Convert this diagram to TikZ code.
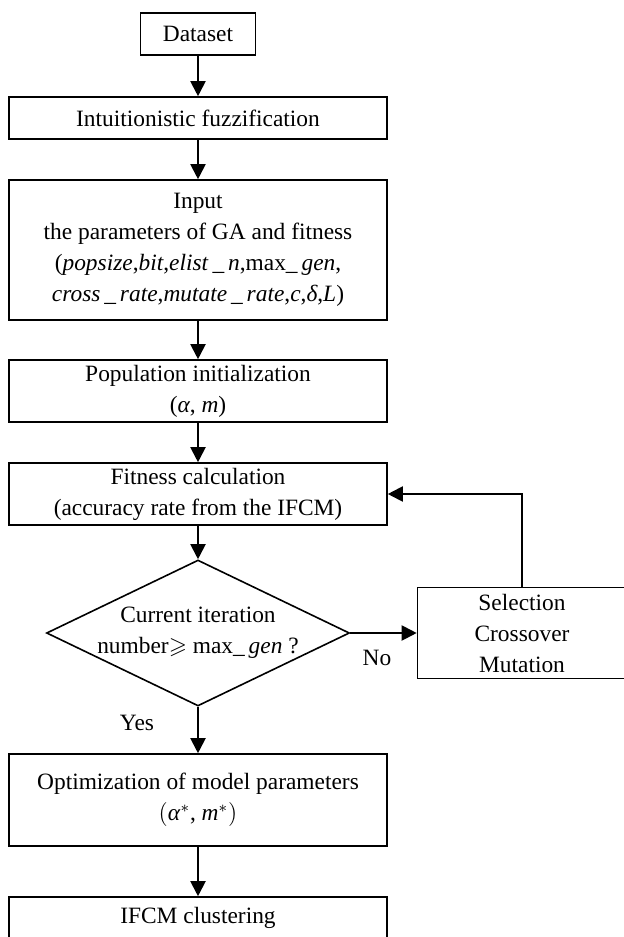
\documentclass[tikz,border=0pt]{standalone}
\usepackage{amssymb}
\usepackage{fontspec}
\setmainfont{Liberation Serif}
\usetikzlibrary{arrows.meta,shapes.geometric}

\begin{document}
\begin{tikzpicture}[x=0.5pt,y=-0.5pt,
  font=\fontsize{11.7}{15.5}\selectfont,
  StepBox/.style={draw,line width=0.8pt,inner sep=0pt,align=center,minimum width=189pt},
  Decision/.style={draw,diamond,line width=0.8pt,inner sep=0pt,minimum width=151.5pt,minimum height=73pt},
  FlowArrow/.style={line width=1pt,-{Triangle[length=7.5pt,width=7.5pt]}}]
\useasboundingbox (0,0) rectangle (624,937);

\node[StepBox,minimum width=57.5pt,minimum height=21pt] (data) at (198,34) {Dataset};
\node[StepBox,minimum height=21pt] (fuzz) at (198,118) {Intuitionistic fuzzification};
\node[StepBox,minimum height=70pt] (input) at (198,250) {Input\\
  the parameters of GA and fitness\\
  (\textit{popsize},\textit{bit},\textit{elist}\,\_\,\textit{n},max\_\,\textit{gen},\\
  \textit{cross}\,\_\,\textit{rate},\textit{mutate}\,\_\,\textit{rate},\textit{c},\textit{δ},\textit{L})};
\node[StepBox,minimum height=31pt] (pop) at (198,391) {Population initialization\\(\textit{α}, \textit{m})};
\node[StepBox,minimum height=31pt] (fit) at (198,494) {Fitness calculation\\(accuracy rate from the IFCM)};
\node[Decision] (cond) at (198,633) {};
\node[align=center] (condtxt) at (cond.center) {Current iteration\\number$\geqslant$ max\_\,\textit{gen} ?};
\node[StepBox,minimum width=104.5pt,minimum height=45.5pt] (sel) at (522,633) {Selection\\Crossover\\Mutation};
\node[StepBox,minimum height=46pt] (opt) at (198,800) {Optimization of model parameters\\$\big($\textit{α}$^{*}$, \textit{m}$^{*}\big)$};
\node[StepBox,minimum height=21pt] (ifcm) at (198,918) {IFCM clustering};

\node (yes) at (137,723) {Yes};
\node (no) at (377,658) {No};

\draw[FlowArrow] (data) -- (fuzz);
\draw[FlowArrow] (fuzz) -- (input);
\draw[FlowArrow] (input) -- (pop);
\draw[FlowArrow] (pop) -- (fit);
\draw[FlowArrow] (fit) -- (cond);
\draw[FlowArrow] (cond.east) -- (sel.west);
\draw[FlowArrow] (sel.north) |- (fit.east);
\draw[FlowArrow] (cond.south) -- (opt.north);
\draw[FlowArrow] (opt) -- (ifcm);

\end{tikzpicture}
\end{document}
